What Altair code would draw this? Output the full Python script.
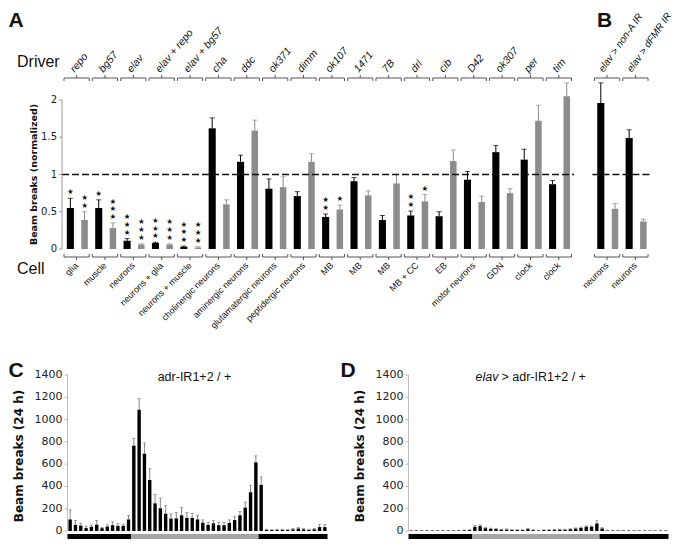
import altair as alt
import pandas as pd

# ---------------- Panel A data ----------------
drivers_A = ["repo", "bg57", "elav", "elav + repo", "elav + bg57", "cha", "ddc", "ok371", "dimm",
             "ok107", "1471", "7B", "drl", "cib", "D42", "ok307", "per", "tim"]
cells_A = ["glia", "muscle", "neurons", "neurons + glia", "neurons + muscle", "cholinergic neurons",
           "aminergic neurons", "glutamatergic neurons", "peptidergic neurons", "MB", "MB", "MB",
           "MB + CC", "EB", "motor neurons", "GDN", "clock", "clock"]
ctrl_A = [0.55, 0.55, 0.11, 0.08, 0.03, 1.62, 1.17, 0.81, 0.71, 0.43, 0.91, 0.39, 0.45, 0.44, 0.93, 1.30, 1.20, 0.87]
ctrl_A_err = [0.68, 0.66, 0.14, 0.09, 0.04, 1.76, 1.26, 0.94, 0.77, 0.47, 0.96, 0.45, 0.51, 0.50, 1.04, 1.39, 1.34, 0.92]
exp_A = [0.39, 0.28, 0.06, 0.06, 0.02, 0.60, 1.59, 0.83, 1.17, 0.53, 0.72, 0.88, 0.64, 1.18, 0.63, 0.75, 1.72, 2.05]
exp_A_err = [0.50, 0.35, 0.07, 0.07, 0.03, 0.66, 1.73, 0.97, 1.28, 0.59, 0.78, 1.00, 0.73, 1.33, 0.71, 0.81, 1.93, 2.23]
ctrl_stars_A = [1, 1, 3, 3, 3, 0, 0, 0, 0, 2, 0, 0, 2, 0, 0, 0, 0, 0]
exp_stars_A = [2, 3, 3, 3, 3, 0, 0, 0, 0, 1, 0, 0, 1, 0, 0, 0, 0, 0]
ticks_A = [0, 0.5, 1, 1.5, 2]

# ---------------- Panel B data ----------------
drivers_B = ["elav > non-A IR", "elav > dFMR IR"]
cells_B = ["neurons", "neurons"]
ctrl_B = [1.96, 1.49]
ctrl_B_err = [2.23, 1.60]
exp_B = [0.54, 0.37]
exp_B_err = [0.61, 0.40]
ctrl_stars_B = [0, 0]
exp_stars_B = [0, 0]

# ---------------- Panels C / D data (30-min bins, 0..24 h) ----------------
hours = [i * 0.5 for i in range(49)]
lights_on, lights_off = 6, 18
ticks_CD = [0, 200, 400, 600, 800, 1000, 1200, 1400]
counts_C = [104, 55, 49, 26, 37, 57, 25, 40, 52, 46, 46, 104,
            766, 1088, 694, 458, 248, 204, 155, 112, 113, 141, 118, 118,
            104, 75, 55, 69, 52, 52, 72, 98, 141, 210, 348, 616,
            414, 10, 8, 10, 10, 8, 15, 22, 15, 10, 15, 35, 35]
err_C = [190, 95, 70, 42, 52, 95, 32, 55, 82, 65, 62, 140,
         830, 1190, 790, 560, 330, 295, 230, 155, 165, 210, 165, 158,
         140, 100, 78, 95, 78, 78, 100, 130, 175, 260, 410, 675,
         485, 16, 13, 16, 16, 13, 24, 32, 24, 16, 24, 58, 58]
counts_D = [4, 4, 4, 4, 4, 4, 4, 4, 4, 5, 6, 8,
            38, 44, 25, 20, 17, 12, 14, 9, 9, 8, 17, 8,
            5, 8, 9, 10, 12, 12, 16, 22, 28, 38, 38, 68,
            23, 5, 4, 4, 4, 4, 3, 3, 3, 3, 3, 3, 3]
err_D = [6, 6, 6, 6, 6, 6, 6, 6, 6, 7, 9, 12,
         50, 55, 32, 26, 22, 16, 18, 12, 12, 11, 24, 11,
         8, 11, 12, 13, 16, 16, 20, 28, 35, 46, 46, 92,
         30, 7, 6, 6, 6, 6, 5, 5, 5, 5, 5, 5, 5]

# ---------------- build tables ----------------
B_OFFSET = 18.7
rows = []
for i in range(len(drivers_A)):
    rows.append(dict(driver=drivers_A[i], cell=cells_A[i], pos=i, panel="A",
                     ctrl=ctrl_A[i], ctrl_err=ctrl_A_err[i], ctrl_stars=ctrl_stars_A[i],
                     exp=exp_A[i], exp_err=exp_A_err[i], exp_stars=exp_stars_A[i]))
for i in range(len(drivers_B)):
    rows.append(dict(driver=drivers_B[i], cell=cells_B[i], pos=B_OFFSET + i, panel="B",
                     ctrl=ctrl_B[i], ctrl_err=ctrl_B_err[i], ctrl_stars=ctrl_stars_B[i],
                     exp=exp_B[i], exp_err=exp_B_err[i], exp_stars=exp_stars_B[i]))
groups = pd.DataFrame(rows)
groups["bstart"] = groups.pos + 0.02
groups["bend"] = groups.pos + 0.91
groups["bcenter"] = groups.pos + 0.465
groups["lab"] = groups.pos + groups.panel.map({"A": 0.32, "B": 0.25})
ends = pd.DataFrame({"x": list(groups.bstart) + list(groups.bend)})

bar_rows, star_rows = [], []
for r in rows:
    for s, o0, o1 in (("ctrl", 0.12, 0.37), ("exp", 0.63, 0.86)):
        xc = r["pos"] + (o0 + o1) / 2
        bar_rows.append(dict(series=s, x0=r["pos"] + o0, x1=r["pos"] + o1, xc=xc,
                             value=r[s], err=r[s + "_err"]))
        for k in range(r[s + "_stars"]):
            star_rows.append(dict(xc=xc, err=r[s + "_err"], k=k))
bars = pd.DataFrame(bar_rows)
stars = pd.DataFrame(star_rows)
dash = pd.DataFrame({"xs": [-0.05, B_OFFSET - 0.05], "xe": [len(drivers_A), B_OFFSET + 2.05], "ref": [1.0, 1.0]})

W, H = 590, 149
XS = alt.Scale(domain=[-0.05, 20.75], nice=False, zero=False)
YS = alt.Scale(domain=[0, 2], nice=False)
COL = alt.Scale(domain=["ctrl", "exp"], range=["#000000", "#8c8c8c"])
LAB = "Liberation Sans"
DV = "DejaVu Sans"
BR = "#555555"


def note(text, x, y, size, weight="normal", style="normal", align="left", baseline="middle", font=LAB,
         angle=0):
    return alt.Chart(pd.DataFrame({"t": [text]})).mark_text(
        align=align, baseline=baseline, fontSize=size, fontWeight=weight, fontStyle=style,
        font=font, color="#111", angle=angle
    ).encode(x=alt.value(x), y=alt.value(y), text="t:N")


def y_axis(ticks, ys, axis_x, fmt, font_size, color):
    tdf = pd.DataFrame({"v": ticks})
    rng = pd.DataFrame({"lo": [min(ticks)], "hi": [max(ticks)]})
    return [
        alt.Chart(rng).mark_rule(color=color).encode(
            x=alt.value(axis_x), y=alt.Y("lo:Q", scale=ys, axis=None), y2="hi:Q"),
        alt.Chart(tdf).mark_rule(color=color).encode(
            x=alt.value(axis_x - 3), x2=alt.value(axis_x), y=alt.Y("v:Q", scale=ys, axis=None)),
        alt.Chart(tdf).mark_text(align="right", baseline="middle", font=DV, fontSize=font_size,
                                 color="#222").encode(
            x=alt.value(axis_x - 5), y=alt.Y("v:Q", scale=ys, axis=None), text=alt.Text("v:Q", format=fmt)),
    ]


# ---------------- Panel A / B layers ----------------
top_layers = [
    alt.Chart(bars).mark_bar().encode(
        x=alt.X("x0:Q", scale=XS, axis=None), x2="x1:Q",
        y=alt.Y("value:Q", scale=YS, axis=None), y2=alt.datum(0),
        color=alt.Color("series:N", scale=COL, legend=None)),
    alt.Chart(bars).mark_rule(strokeWidth=1).encode(
        x=alt.X("xc:Q", scale=XS, axis=None), y=alt.Y("value:Q", scale=YS, axis=None), y2="err:Q",
        color=alt.Color("series:N", scale=COL, legend=None)),
    alt.Chart(bars).mark_tick(orient="horizontal", size=5, thickness=1).encode(
        x=alt.X("xc:Q", scale=XS, axis=None), y=alt.Y("err:Q", scale=YS, axis=None),
        color=alt.Color("series:N", scale=COL, legend=None)),
]
for k in range(3):
    top_layers.append(alt.Chart(stars).transform_filter(alt.datum.k == k).mark_text(
        text="★", baseline="middle", dy=-6 - 7.7 * k, fontSize=7.5, font=DV, color="#111").encode(
        x=alt.X("xc:Q", scale=XS, axis=None), y=alt.Y("err:Q", scale=YS, axis=None)))
top_layers.append(alt.Chart(dash).mark_rule(strokeDash=[7, 3], strokeWidth=1.6, color="#111").encode(
    x=alt.X("xs:Q", scale=XS, axis=None), x2="xe:Q", y=alt.Y("ref:Q", scale=YS, axis=None)))

TOP, BOT = -22, 157
g = alt.Chart(groups)
e = alt.Chart(ends)
top_layers += [
    g.mark_rule(color=BR).encode(x=alt.X("bstart:Q", scale=XS, axis=None), x2="bend:Q", y=alt.value(TOP)),
    e.mark_rule(color=BR).encode(x=alt.X("x:Q", scale=XS, axis=None), y=alt.value(TOP), y2=alt.value(TOP + 3)),
    g.mark_rule(color=BR).encode(x=alt.X("bcenter:Q", scale=XS, axis=None), y=alt.value(TOP - 3), y2=alt.value(TOP)),
    g.mark_rule(color=BR).encode(x=alt.X("bstart:Q", scale=XS, axis=None), x2="bend:Q", y=alt.value(BOT)),
    e.mark_rule(color=BR).encode(x=alt.X("x:Q", scale=XS, axis=None), y=alt.value(BOT - 3), y2=alt.value(BOT)),
    g.mark_rule(color=BR).encode(x=alt.X("bcenter:Q", scale=XS, axis=None), y=alt.value(BOT), y2=alt.value(BOT + 3)),
    g.transform_filter(alt.datum.panel == "A").mark_text(
        angle=310, align="left", baseline="middle", fontStyle="italic", fontSize=10.5, font=LAB, color="#111").encode(
        x=alt.X("lab:Q", scale=XS, axis=None), y=alt.value(TOP - 7), text="driver:N"),
    g.transform_filter(alt.datum.panel == "B").mark_text(
        angle=305, align="left", baseline="middle", fontStyle="italic", fontSize=10, font=LAB, color="#111").encode(
        x=alt.X("lab:Q", scale=XS, axis=None), y=alt.value(TOP - 7), text="driver:N"),
    g.mark_text(angle=315, align="right", baseline="middle", fontSize=9, font=LAB, color="#111").encode(
        x=alt.X("bcenter:Q", scale=XS, axis=None), y=alt.value(BOT + 7), text="cell:N"),
]
top_layers += y_axis(ticks_A, YS, 0, "~g", 10, "#999")
top_layers += [
    note("Beam breaks (normalized)", -28, H / 2, 9.5, weight="bold", font=DV, align="center", angle=270),
    note("A", -53.5, -90, 21, weight="bold", baseline="top"),
    note("B", 535, -90, 21, weight="bold", baseline="top"),
    note("Driver", -45, -38, 16),
    note("Cell", -45, 169, 16),
]

# ---------------- Panels C and D ----------------
CD_TOP, CD_BOT = 275, 431
YC = alt.Scale(domain=[0, 1400], range=[CD_BOT, CD_TOP], nice=False, zero=False)


def activity_layers(counts, errs, x0, width):
    phase = ["light" if lights_on <= h < lights_off else "dark" for h in hours]
    df = pd.DataFrame({"slot": range(len(hours)), "value": counts, "err": errs, "phase": phase})
    df["x0"] = df.slot + 0.18
    df["x1"] = df.slot + 0.82
    df["xc"] = df.slot + 0.5
    segs = []
    start = 0
    for i in range(1, len(phase) + 1):
        if i == len(phase) or phase[i] != phase[start]:
            segs.append(dict(s=start, e=i, phase=phase[start]))
            start = i
    seg_df = pd.DataFrame(segs)
    xs = alt.Scale(domain=[0, len(hours)], range=[x0, x0 + width], nice=False, zero=False)
    lay = [
        alt.Chart(df).mark_bar(color="#000").encode(
            x=alt.X("x0:Q", scale=xs, axis=None), x2="x1:Q",
            y=alt.Y("value:Q", scale=YC, axis=None), y2=alt.datum(0)),
        alt.Chart(df).mark_rule(color="#666", strokeWidth=0.8).encode(
            x=alt.X("xc:Q", scale=xs, axis=None), y=alt.Y("value:Q", scale=YC, axis=None), y2="err:Q"),
        alt.Chart(df).mark_tick(orient="horizontal", size=3, thickness=0.8, color="#666").encode(
            x=alt.X("xc:Q", scale=xs, axis=None), y=alt.Y("err:Q", scale=YC, axis=None)),
        alt.Chart(seg_df).mark_rect().encode(
            x=alt.X("s:Q", scale=xs, axis=None), x2="e:Q", y=alt.value(CD_BOT + 3), y2=alt.value(CD_BOT + 8),
            color=alt.Color("phase:N", scale=alt.Scale(domain=["dark", "light"], range=["#000000", "#a6a6a6"]),
                            legend=None)),
    ]
    lay += y_axis(ticks_CD, YC, x0, "d", 11, "#bbb")
    lay.append(note("Beam breaks (24 h)", x0 - 49, (CD_TOP + CD_BOT) / 2 + 3, 12, weight="bold", font=DV,
                    align="center", angle=270))
    return lay


C_X0, D_X0, CD_W = 5.5, 346.5, 260
bottom_layers = activity_layers(counts_C, err_C, C_X0, CD_W) + activity_layers(counts_D, err_D, D_X0, CD_W)
bottom_layers += [
    note("C", -53.5, CD_TOP - 15, 21, weight="bold", baseline="top"),
    note("D", D_X0 - 68, CD_TOP - 15, 21, weight="bold", baseline="top"),
    note("adr-IR1+2 / +", C_X0 + 127, CD_TOP + 2, 12.5, align="center"),
    note("elav", D_X0 + 90, CD_TOP + 2, 12.5, style="italic", align="right"),
    note("> adr-IR1+2 / +", D_X0 + 93, CD_TOP + 2, 12.5),
]

chart = alt.layer(*top_layers, *bottom_layers).resolve_scale(
    x="independent", y="independent", color="independent"
).properties(
    width=W, height=H, padding={"left": 0, "top": 2, "right": 0, "bottom": 0}, background="white"
).configure_view(stroke=None)

chart.save("out.html", embed_options={"renderer": "svg", "actions": False})
